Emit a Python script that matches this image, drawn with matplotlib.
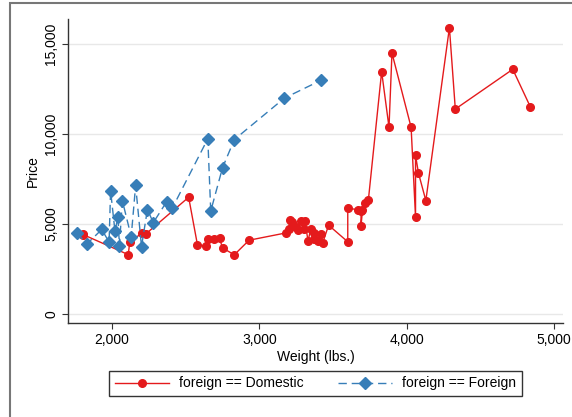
import numpy as np
import matplotlib
matplotlib.use("Agg")
import matplotlib.pyplot as plt
from matplotlib.patches import Rectangle

plt.rcParams['font.family'] = ['Liberation Sans', 'DejaVu Sans']

# auto data, in make order (alphabetical)
dom_weight = [2930, 3350, 2640, 3250, 4080, 3670, 2230, 3280, 3880, 3400,
              4330, 3900, 4290, 2110, 3690, 3180, 3220, 2750, 3430, 2120,
              3600, 3600, 3740, 1800, 2650, 4840, 4720, 3830, 2580, 4060,
              3720, 3370, 4130, 2830, 4060, 3310, 3300, 3690, 3370, 2730,
              4030, 3260, 1800, 2200, 2520, 3330, 3700, 3470, 3210, 3200,
              3420, 2690]
dom_price = [4099, 4749, 3799, 4816, 7827, 5788, 4453, 5189, 10372, 4082,
             11385, 14500, 15906, 3299, 5705, 4504, 5104, 3667, 3955, 3984,
             4010, 5886, 6342, 4389, 4187, 11497, 13594, 13466, 3829, 5379,
             6165, 4516, 6303, 3291, 8814, 5172, 4733, 4890, 4181, 4195,
             10371, 4647, 4425, 4482, 6486, 4060, 5798, 4934, 5222, 4723,
             4424, 4172]

for_weight = [2830, 2070, 2650, 2370, 2020, 2280, 2750, 2130, 2240, 1760,
              1980, 3420, 1830, 2050, 2410, 2200, 2670, 2160, 2040, 1930,
              1990, 3170]
for_price = [9690, 6295, 9735, 6229, 4589, 5079, 8129, 4296, 5799, 4499,
             3995, 12990, 3895, 3798, 5899, 3748, 5719, 7140, 5397, 4697,
             6850, 11995]

x_ticks = [2000, 3000, 4000, 5000]
y_ticks = [0, 5000, 10000, 15000]

red = '#E41A1C'
blue = '#377EB8'


def sorted_xy(x, y):
    x = np.asarray(x)
    y = np.asarray(y)
    idx = np.argsort(x, kind='mergesort')
    return x[idx], y[idx]


fig = plt.figure(figsize=(5.72, 4.17), dpi=100)
ax = fig.add_axes([68 / 572, 1 - 323 / 417, (563 - 68) / 572, (323 - 19) / 417])

dx, dy = sorted_xy(dom_weight, dom_price)
fx, fy = sorted_xy(for_weight, for_price)

ax.plot(dx, dy, color=red, lw=1.0, marker='o', ms=5.5, mec=red, mfc=red,
        label='foreign == Domestic', zorder=3)
ax.plot(fx, fy, color=blue, lw=1.0, ls=(0, (6, 3.5)), marker='D', ms=6,
        mec=blue, mfc=blue, label='foreign == Foreign', zorder=3)

ax.set_xlim(1701, 5061)
ax.set_ylim(-500, 16389)
ax.set_xticks(x_ticks)
ax.set_yticks(y_ticks)
ax.set_xticklabels([f'{v:,}' for v in x_ticks])
ax.set_yticklabels([f'{v:,}' for v in y_ticks], rotation=90, va='center')
ax.tick_params(labelsize=10, length=4, width=0.8, color='#333333', pad=3)
ax.grid(axis='y', color='#e8e8e8', lw=1.0, zorder=0)
ax.set_axisbelow(True)
for s in ['top', 'right']:
    ax.spines[s].set_visible(False)
for s in ['left', 'bottom']:
    ax.spines[s].set_color('#333333')
    ax.spines[s].set_linewidth(1.0)

ax.set_xlabel('Weight (lbs.)', fontsize=10, labelpad=2)
ax.set_ylabel('Price', fontsize=10, labelpad=3)

leg = fig.legend(loc='center', bbox_to_anchor=(315.5 / 572, 1 - 383.5 / 417),
                 ncol=2, fontsize=10, frameon=True, fancybox=False,
                 edgecolor='black', handlelength=3.9, columnspacing=2.5,
                 borderpad=0.4, handletextpad=0.7)
leg.get_frame().set_linewidth(1.0)

# outer graph region border (cropped on right and bottom)
fig.patches.append(Rectangle((10 / 572, -0.1), 1.2, 1 - 3 / 417 + 0.1,
                             transform=fig.transFigure, fill=False,
                             edgecolor='#777777', lw=1.5))

fig.savefig('out.png', dpi=100)
